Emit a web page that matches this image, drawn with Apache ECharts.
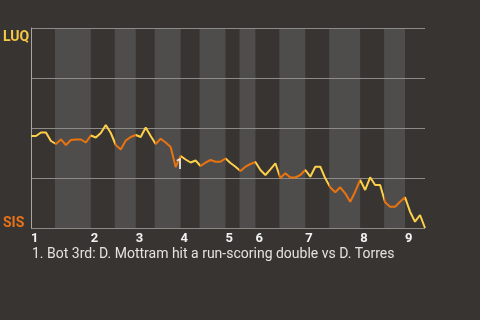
<!DOCTYPE html>
<html>
<head>
<meta charset="utf-8">
<script src="https://cdn.jsdelivr.net/npm/echarts@6/dist/echarts.min.js"></script>
<style>
html,body{margin:0;padding:0;background:#373431;}
#c{width:480px;height:320px;}
</style>
</head>
<body>
<div id="c"></div>
<script>
// Win probability for LUQ (%), one value per plate appearance
const winProb = [46, 46, 47.75, 47.75, 43.5, 42, 44.3, 41.5, 44, 44.25,
  44.25, 42.75, 46.25, 45.25, 47.5, 51.5, 47.5, 41.5, 39.25, 43.75,
  45.5, 46.5, 45.5, 50.25, 46, 42, 44.65, 42.75, 40.5, 30.5,
  36, 34.25, 32.75, 33.75, 31, 32.65, 34, 33.15, 33.15, 34.75,
  32.5, 30.65, 28.5, 30.65, 32, 33, 29, 26.5, 29.35, 32.35,
  25, 27.35, 25.25, 25.25, 26.5, 29, 25.65, 30.65, 30.65, 24.85,
  20.35, 17.85, 20.35, 17.35, 13.15, 18.15, 24, 19, 25.35, 21.5,
  21.5, 12.85, 10.65, 10.65, 13.15, 15.35, 8.15, 3.15, 6.5, 0];
// Innings: start index of each inning (top half) and its label
const inningStarts = [0, 12, 21, 30, 39, 45, 55, 66, 75];
const inningLabels = ['1', '2', '3', '4', '5', '6', '7', '8', '9'];
// Bottom half-innings (SIS batting) as [start, end] in plate-appearance units
const bottomHalves = [[4.8, 12], [16.8, 21], [24.8, 30], [33.8, 39], [41.8, 45], [49.8, 55], [59.8, 66], [70.8, 75]];
// Team names
const awayTeam = 'LUQ';
const homeTeam = 'SIS';
// Annotations
const noteIndex = 29;
const noteLabel = '1';
const footnote = '1. Bot 3rd: D. Mottram hit a run-scoring double vs D. Torres';
const lastIndex = 79;

const YELLOW = '#fdd04a';
const ORANGE = '#e8730f';

const chart = echarts.init(document.getElementById('c'), null, {renderer: 'canvas'});
chart.setOption({
  backgroundColor: '#373431',
  animation: false,
  title: {
    text: footnote,
    left: 32, top: 247, padding: 0,
    textStyle: {color: '#e4e2df', fontSize: 14, fontWeight: 'normal', fontFamily: 'Roboto'}
  },
  grid: {left: 30, top: 28, right: 55, bottom: 92},
  xAxis: {
    type: 'value', min: 0, max: lastIndex,
    axisLine: {show: false}, axisTick: {show: false}, splitLine: {show: false},
    axisLabel: {
      customValues: inningStarts,
      formatter: v => inningLabels[inningStarts.indexOf(v)] || '',
      align: 'left', margin: 4,
      color: '#f2f2f2', fontSize: 13, fontWeight: 'bold', fontFamily: 'Roboto'
    }
  },
  yAxis: {
    type: 'value', min: 0, max: 100, interval: 25, z: 3,
    axisLine: {show: true, lineStyle: {color: '#a9a7a4', width: 1}},
    axisTick: {show: false},
    splitLine: {lineStyle: {color: '#8d8b88', width: 1}},
    axisLabel: {
      formatter: v => v === 100 ? '{a|' + awayTeam + '}' : (v === 0 ? '{h|' + homeTeam + '}' : ''),
      align: 'left', margin: 28,
      verticalAlignMinLabel: 'bottom', verticalAlignMaxLabel: 'top',
      rich: {
        a: {color: '#f7c845', fontSize: 14, fontWeight: 'bold', fontFamily: 'Roboto', padding: [2, 0, 0, 0]},
        h: {color: '#e8731a', fontSize: 14, fontWeight: 'bold', fontFamily: 'Roboto', lineHeight: 10}
      }
    }
  },
  visualMap: {
    show: false, type: 'piecewise', dimension: 0, seriesIndex: 1,
    pieces: bottomHalves.map(b => ({gte: b[0], lt: b[1], color: ORANGE})),
    outOfRange: {color: YELLOW}
  },
  series: [
    {
      type: 'line', data: [], z: 1, silent: true,
      markArea: {
        silent: true,
        itemStyle: {color: '#4f4d4b'},
        data: bottomHalves.map(b => [{xAxis: b[0]}, {xAxis: b[1]}])
      }
    },
    {
      type: 'line', z: 5,
      data: winProb.map((v, i) => [i, v]),
      showSymbol: false, symbol: 'none',
      lineStyle: {width: 2}
    },
    {
      type: 'scatter', z: 10, silent: true,
      data: [[noteIndex, winProb[noteIndex]]],
      symbolSize: 0,
      label: {
        show: true, formatter: noteLabel, position: 'inside', offset: [4, -2],
        color: '#ffffff', fontSize: 14, fontWeight: 'bold', fontFamily: 'Roboto'
      }
    }
  ]
});
</script>
</body>
</html>
